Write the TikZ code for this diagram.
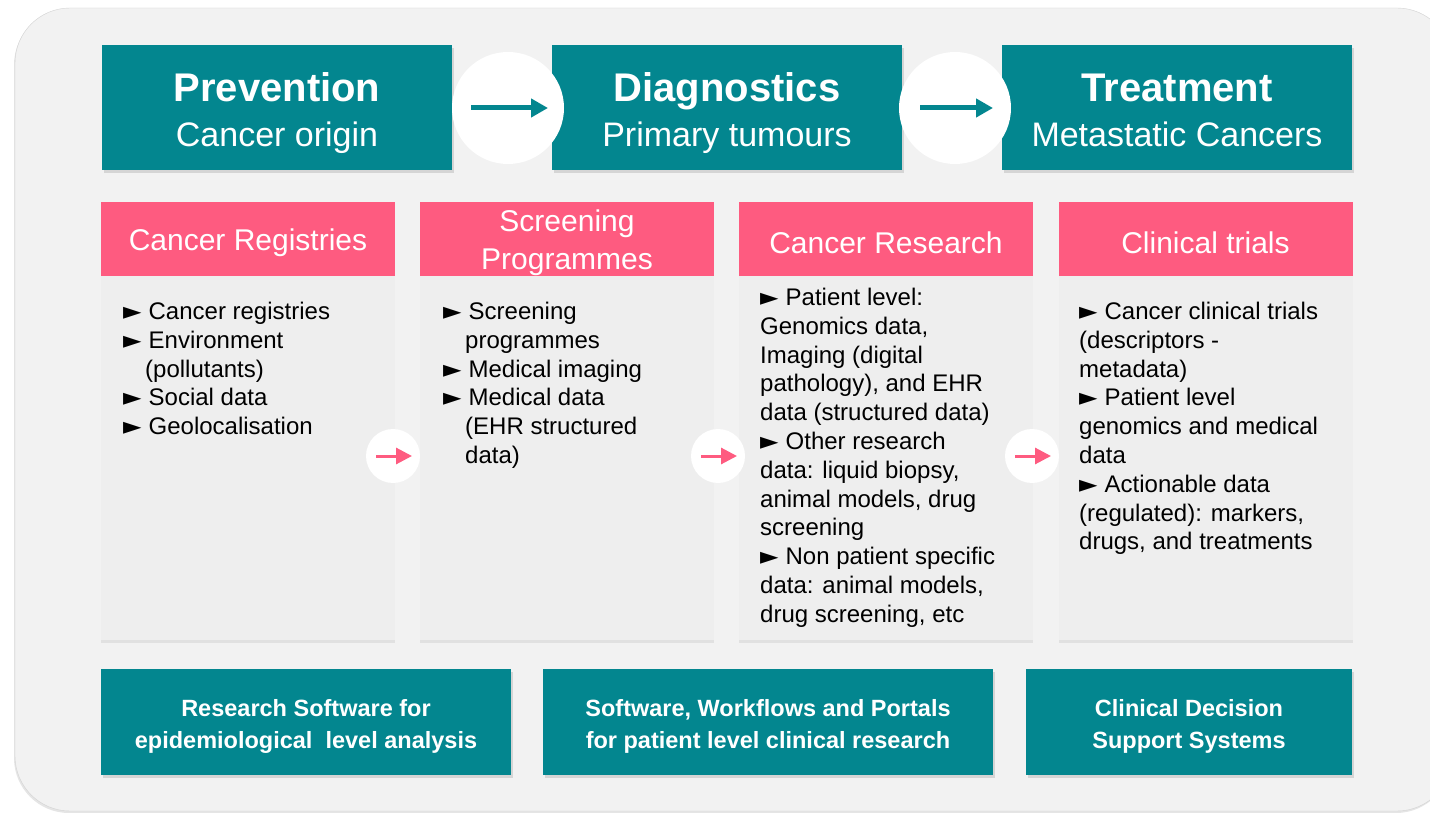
\documentclass[tikz,border=0pt]{standalone}
\usepackage{fontspec}
\setmainfont{Liberation Sans}
\newfontfamily\symfont{DejaVu Sans}
\usepackage{tikz}
\usetikzlibrary{positioning, calc, arrows.meta, shadows}
\usepackage{xcolor}
\definecolor{tealbox}{HTML}{03868F}
\definecolor{pinkbox}{HTML}{FE5B80}
\definecolor{panelgray}{HTML}{F2F2F2}
\definecolor{cardgray}{HTML}{EEEEEE}
\newcommand{\bul}{{\symfont\fontsize{24}{28.8}\selectfont\char"25BA}\hspace{7pt}}
\newcommand{\ind}{\hspace*{22pt}}

\begin{document}
\begin{tikzpicture}[x=1pt, y=-1pt,
  softshadow/.style={drop shadow={opacity=0.25, shadow xshift=2pt, shadow yshift=-3pt}},
  phasebox/.style={rectangle, fill=tealbox, minimum width=350pt, minimum height=125pt, inner sep=0pt, softshadow},
  phasetitle/.style={anchor=base, text=white, inner sep=0pt, font=\bfseries\fontsize{40}{45}\selectfont},
  phasesub/.style={anchor=base, text=white, inner sep=0pt, font=\fontsize{34}{40}\selectfont},
  headbox/.style={rectangle, fill=pinkbox, minimum width=294pt, minimum height=74pt, inner sep=0pt},
  headtext/.style={text=white, inner sep=0pt, align=center, yshift=-4pt, font=\fontsize{30}{38}\selectfont},
  cardbox/.style={rectangle, fill=cardgray, minimum width=294pt, minimum height=364pt, inner sep=0pt, drop shadow={opacity=0.15, shadow xshift=0pt, shadow yshift=-3pt}},
  cardtext/.style={anchor=north west, inner sep=0pt, align=left, font=\fontsize{24}{28.8}\selectfont},
  toolbox/.style={rectangle, fill=tealbox, minimum height=106pt, inner sep=0pt, softshadow},
  tooltext/.style={text=white, inner sep=0pt, align=center, yshift=-4pt, font=\bfseries\fontsize{23.5}{32}\selectfont},
  bigdot/.style={circle, fill=white, minimum size=112pt, inner sep=0pt},
  smalldot/.style={circle, fill=white, minimum size=54pt, inner sep=0pt},
  tealarrow/.style={draw=tealbox, line width=5pt, -{Triangle[length=17pt, width=18pt]}},
  pinkarrow/.style={draw=pinkbox, line width=3pt, -{Triangle[length=16pt, width=16pt]}}]
\useasboundingbox (0,0) rectangle (1430,813);
\fill[white] (0,0) rectangle (1430,813);
\draw[draw=gray!35, fill=panelgray, rounded corners=55pt, drop shadow={opacity=0.2, shadow xshift=-1pt, shadow yshift=-2pt}] (15,8) rectangle (1452,811);

% phases
\node[phasebox] (prev) at (277,107.5) {};
\node[phasebox] (diag) at (727,107.5) {};
\node[phasebox] (treat) at (1177,107.5) {};
\node[phasetitle] (prevT) at ($(prev.north)+(0,57)$) {Prevention};
\node[phasesub] (prevS) at ($(prev.north)+(0,102)$) {Cancer origin};
\node[phasetitle] (diagT) at ($(diag.north)+(0,57)$) {Diagnostics};
\node[phasesub] (diagS) at ($(diag.north)+(0,102)$) {Primary tumours};
\node[phasetitle] (treatT) at ($(treat.north)+(0,57)$) {Treatment};
\node[phasesub] (treatS) at ($(treat.north)+(0,102)$) {Metastatic Cancers};
\node[bigdot] (d1) at (508,108) {};
\node[bigdot] (d2) at (955,108) {};
\draw[tealarrow] ($(d1.center)+(-37,0)$) -- ($(d1.center)+(40,0)$);
\draw[tealarrow] ($(d2.center)+(-35,0)$) -- ($(d2.center)+(38,0)$);

% data sources
\node[cardbox] (c1) at (248,458) {};
\node[cardbox] (c2) at (567,458) {};
\node[cardbox] (c3) at (886,458) {};
\node[cardbox] (c4) at (1205.5,458) {};
\node[headbox] (h1) at (248,239) {};
\node[headbox] (h2) at (567,239) {};
\node[headbox] (h3) at (886,239) {};
\node[headbox] (h4) at (1205.5,239) {};
\node[headtext] at (h1) {Cancer Registries};
\node[headtext] at (h2) {Screening\\Programmes};
\node[headtext] at (h3) {Cancer Research};
\node[headtext] at (h4) {Clinical trials};

\node[cardtext] (t1) at (123,302) {\bul Cancer registries\\\bul Environment\\\ind(pollutants)\\\bul Social data\\\bul Geolocalisation};
\node[cardtext] (t2) at (443,302) {\bul Screening\\\ind programmes\\\bul Medical imaging\\\bul Medical data\\\ind(EHR structured\\\ind data)};
\node[cardtext] (t3) at (760,288) {\bul Patient level:\\Genomics data,\\Imaging (digital\\pathology), and EHR\\data (structured data)\\\bul Other research\\data: liquid biopsy,\\animal models, drug\\screening\\\bul Non patient specific\\data: animal models,\\drug screening, etc};
\node[cardtext] (t4) at (1079,302) {\bul Cancer clinical trials\\(descriptors -\\metadata)\\\bul Patient level\\genomics and medical\\data\\\bul Actionable data\\(regulated): markers,\\drugs, and treatments};

\node[smalldot] (s1) at (393,456) {};
\node[smalldot] (s2) at (718,456) {};
\node[smalldot] (s3) at (1032,456) {};
\foreach \s in {s1,s2,s3}
  \draw[pinkarrow] ($(\s.center)+(-17,0)$) -- ($(\s.center)+(19,0)$);

% software
\node[toolbox, minimum width=410pt] (w1) at (306,722) {};
\node[toolbox, minimum width=450pt] (w2) at (768,722) {};
\node[toolbox, minimum width=326pt] (w3) at (1189,722) {};
\node[tooltext] at (w1) {Research Software for\\epidemiological~ level analysis};
\node[tooltext] at (w2) {Software, Workflows and Portals\\for patient level clinical research};
\node[tooltext] at (w3) {Clinical Decision\\Support Systems};
\end{tikzpicture}
\end{document}
